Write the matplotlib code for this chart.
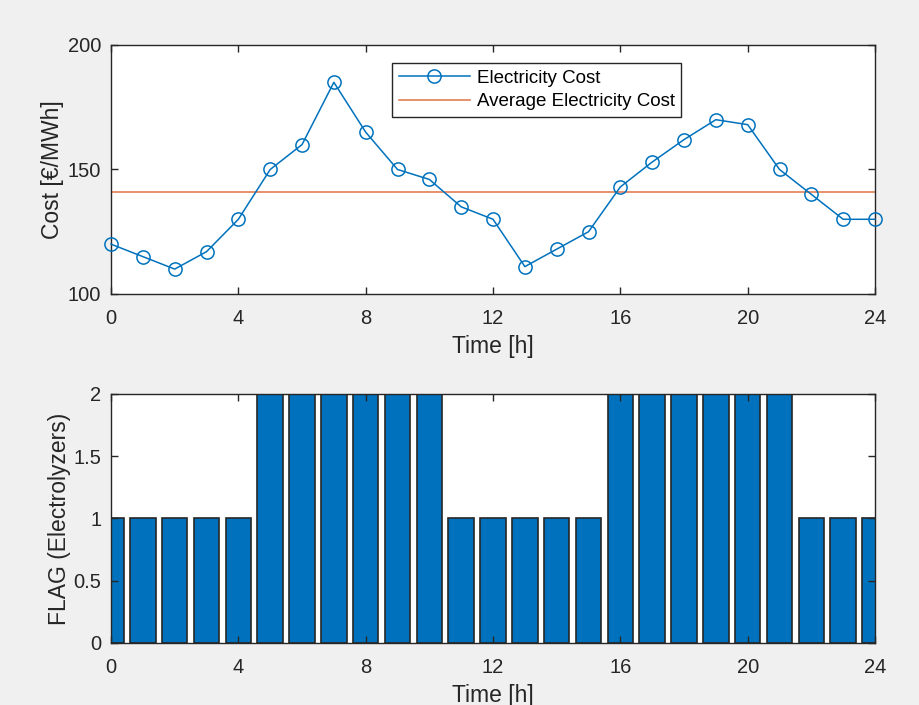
import numpy as np
import matplotlib
matplotlib.use('agg')
from matplotlib import pyplot as plt

plt.rcParams['font.family'] = ['Liberation Sans', 'DejaVu Sans']

# data
hours = list(range(0, 25))
cost = [120, 115, 110, 117, 130, 150, 160, 185, 165, 150, 146, 135, 130,
        111, 118, 125, 143, 153, 162, 170, 168, 150, 140, 130, 130]
avg_cost = 141
flag = [1, 1, 1, 1, 1, 2, 2, 2, 2, 2, 2, 1, 1, 1, 1, 1,
        2, 2, 2, 2, 2, 2, 1, 1, 1]

x_ticks = [0, 4, 8, 12, 16, 20, 24]
cost_ticks = [100, 150, 200]
flag_ticks = [0, 0.5, 1, 1.5, 2]
flag_tick_labels = ['0', '0.5', '1', '1.5', '2']

blue = '#0072BD'
orange = '#D95319'
axcol = '#262626'
bg = '#F0F0F0'

fig = plt.figure(figsize=(9.2, 7.05), dpi=100, facecolor=bg)
ax1 = fig.add_axes([0.1207, 0.583, 0.8304, 0.3532])
ax2 = fig.add_axes([0.1207, 0.088, 0.8304, 0.3532])


def style(ax):
    for s in ax.spines.values():
        s.set_color(axcol)
        s.set_linewidth(1.0)
    ax.tick_params(direction='in', length=5, width=1, color=axcol,
                   labelcolor=axcol, labelsize=14.5, top=True, right=True)
    ax.tick_params(axis='x', pad=11)
    ax.tick_params(axis='y', pad=7)


# top: cost
ax1.plot(hours, cost, '-o', color=blue, lw=1.1, ms=9.5, mfc='none',
         mew=1.1, label='Electricity Cost', clip_on=False, zorder=3)
ax1.axhline(avg_cost, color=orange, lw=1.2, alpha=0.75,
            label='Average Electricity Cost')
ax1.set_xlim(0, 24)
ax1.set_ylim(100, 200)
ax1.set_xticks(x_ticks)
ax1.set_yticks(cost_ticks)
ax1.set_xlabel('Time [h]', fontsize=16.5, color=axcol, labelpad=5)
ax1.set_ylabel('Cost [€/MWh]', fontsize=16.5, color=axcol, labelpad=3)
style(ax1)
leg = ax1.legend(loc='upper left', bbox_to_anchor=(0.368, 0.928),
                 fontsize=13.5, fancybox=False, framealpha=1,
                 edgecolor=axcol, borderpad=0.35, labelspacing=0.35,
                 handlelength=3.8, handletextpad=0.35, borderaxespad=0)
leg.get_frame().set_linewidth(1.0)

# bottom: flag
ax2.bar(hours, flag, width=0.8, color=blue, edgecolor=axcol, lw=1.2)
ax2.set_xlim(0, 24)
ax2.set_ylim(0, 2)
ax2.set_xticks(x_ticks)
ax2.set_yticks(flag_ticks)
ax2.set_yticklabels(flag_tick_labels)
ax2.set_xlabel('Time [h]', fontsize=16.5, color=axcol, labelpad=5)
ax2.set_ylabel('FLAG (Electrolyzers)', fontsize=16.5, color=axcol,
               labelpad=2)
style(ax2)

fig.savefig('out.png', dpi=100, facecolor=bg)
